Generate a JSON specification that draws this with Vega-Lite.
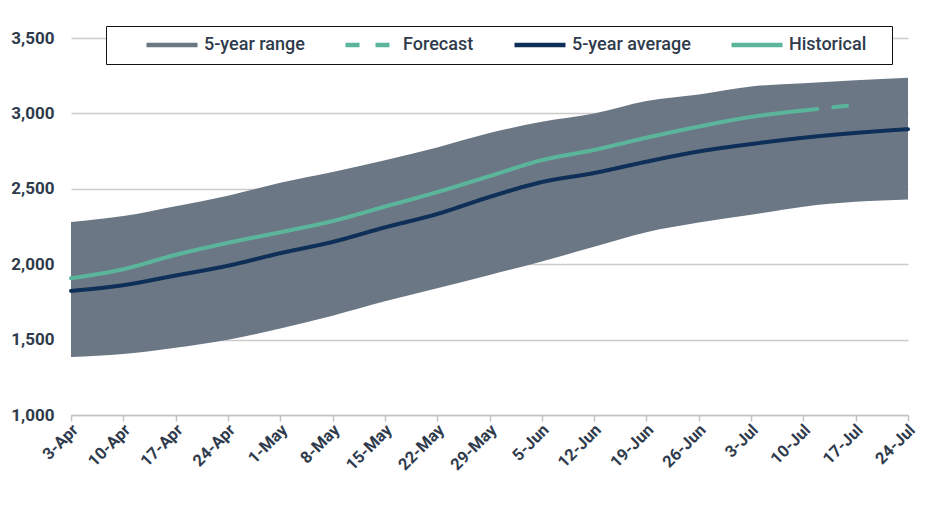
{
  "$schema": "https://vega.github.io/schema/vega-lite/v6.json",
  "width": 837,
  "height": 392,
  "autosize": {"type": "none"},
  "padding": {"left": 71, "top": 23, "right": 32, "bottom": 98},
  "background": "white",
  "config": {
    "view": {"stroke": null},
    "font": "Roboto",
    "axis": {
      "labelFont": "Roboto",
      "labelColor": "#2f3b4c",
      "labelFontWeight": "bold",
      "titleFontWeight": "normal"
    }
  },
  "datasets": {
    "band": [
      {"week": "3-Apr", "lower": 1385, "upper": 2280},
      {"week": "10-Apr", "lower": 1405, "upper": 2320},
      {"week": "17-Apr", "lower": 1446, "upper": 2385},
      {"week": "24-Apr", "lower": 1499, "upper": 2455},
      {"week": "1-May", "lower": 1574, "upper": 2540},
      {"week": "8-May", "lower": 1659, "upper": 2612},
      {"week": "15-May", "lower": 1754, "upper": 2690},
      {"week": "22-May", "lower": 1841, "upper": 2775},
      {"week": "29-May", "lower": 1929, "upper": 2870},
      {"week": "5-Jun", "lower": 2018, "upper": 2945},
      {"week": "12-Jun", "lower": 2116, "upper": 3000},
      {"week": "19-Jun", "lower": 2212, "upper": 3083},
      {"week": "26-Jun", "lower": 2276, "upper": 3126},
      {"week": "3-Jul", "lower": 2328, "upper": 3179},
      {"week": "10-Jul", "lower": 2382, "upper": 3200},
      {"week": "17-Jul", "lower": 2414, "upper": 3221},
      {"week": "24-Jul", "lower": 2429, "upper": 3237}
    ],
    "lines": [
      {"week": "3-Apr", "series": "5-year average", "value": 1823},
      {"week": "10-Apr", "series": "5-year average", "value": 1861},
      {"week": "17-Apr", "series": "5-year average", "value": 1925},
      {"week": "24-Apr", "series": "5-year average", "value": 1990},
      {"week": "1-May", "series": "5-year average", "value": 2073},
      {"week": "8-May", "series": "5-year average", "value": 2148},
      {"week": "15-May", "series": "5-year average", "value": 2244},
      {"week": "22-May", "series": "5-year average", "value": 2333},
      {"week": "29-May", "series": "5-year average", "value": 2446},
      {"week": "5-Jun", "series": "5-year average", "value": 2545},
      {"week": "12-Jun", "series": "5-year average", "value": 2605},
      {"week": "19-Jun", "series": "5-year average", "value": 2680},
      {"week": "26-Jun", "series": "5-year average", "value": 2748},
      {"week": "3-Jul", "series": "5-year average", "value": 2797},
      {"week": "10-Jul", "series": "5-year average", "value": 2839},
      {"week": "17-Jul", "series": "5-year average", "value": 2871},
      {"week": "24-Jul", "series": "5-year average", "value": 2896},
      {"week": "3-Apr", "series": "Historical", "value": 1907},
      {"week": "10-Apr", "series": "Historical", "value": 1967},
      {"week": "17-Apr", "series": "Historical", "value": 2062},
      {"week": "24-Apr", "series": "Historical", "value": 2142},
      {"week": "1-May", "series": "Historical", "value": 2212},
      {"week": "8-May", "series": "Historical", "value": 2286},
      {"week": "15-May", "series": "Historical", "value": 2382},
      {"week": "22-May", "series": "Historical", "value": 2478},
      {"week": "29-May", "series": "Historical", "value": 2584},
      {"week": "5-Jun", "series": "Historical", "value": 2690},
      {"week": "12-Jun", "series": "Historical", "value": 2758},
      {"week": "19-Jun", "series": "Historical", "value": 2839},
      {"week": "26-Jun", "series": "Historical", "value": 2913},
      {"week": "3-Jul", "series": "Historical", "value": 2977},
      {"week": "10-Jul", "series": "Historical", "value": 3020},
      {"week": "10-Jul", "series": "Forecast", "value": 3020},
      {"week": "17-Jul", "series": "Forecast", "value": 3058}
    ]
  },
  "encoding": {
    "x": {
      "field": "week",
      "type": "ordinal",
      "scale": {
        "type": "point",
        "padding": 0,
        "domain": ["3-Apr", "10-Apr", "17-Apr", "24-Apr", "1-May", "8-May", "15-May", "22-May", "29-May", "5-Jun", "12-Jun", "19-Jun", "26-Jun", "3-Jul", "10-Jul", "17-Jul", "24-Jul"]
      },
      "axis": {
        "title": null,
        "labelAngle": -45,
        "labelAlign": "right",
        "labelBaseline": "middle",
        "labelFontSize": 16.5,
        "labelPadding": 6,
        "labelOffset": 4,
        "domainColor": "#c4c4c4",
        "domainWidth": 1.5,
        "tickColor": "#c4c4c4",
        "tickWidth": 1.5,
        "tickSize": 6,
        "grid": false
      }
    }
  },
  "layer": [
    {
      "data": {"name": "band"},
      "mark": {"type": "area", "color": "#6b7785", "opacity": 1, "interpolate": "monotone"},
      "encoding": {
        "y": {
          "field": "lower",
          "type": "quantitative",
          "scale": {"domain": [1000, 3500]},
          "axis": {
            "title": null,
            "values": [1000, 1500, 2000, 2500, 3000, 3500],
            "format": ",d",
            "labelFontSize": 17,
            "labelPadding": 17,
            "ticks": false,
            "domain": false,
            "grid": true,
            "gridColor": "#cccccc",
            "gridWidth": 1.5
          }
        },
        "y2": {"field": "upper"}
      }
    },
    {
      "data": {"name": "lines"},
      "mark": {"type": "line", "strokeWidth": 4, "strokeCap": "round", "strokeJoin": "round", "interpolate": "monotone"},
      "encoding": {
        "y": {"field": "value", "type": "quantitative"},
        "color": {
          "field": "series",
          "type": "nominal",
          "scale": {
            "domain": ["5-year range", "Forecast", "5-year average", "Historical"],
            "range": ["#6b7785", "#5bb59a", "#0e2f57", "#5bb59a"]
          },
          "legend": {
            "title": " ",
            "titleOrient": "right",
            "titlePadding": 16,
            "orient": "none",
            "legendX": 35,
            "legendY": 3,
            "direction": "horizontal",
            "fillColor": "white",
            "strokeColor": "#111111",
            "padding": 10,
            "columnPadding": 10,
            "symbolType": "M-5.1,0H5.1",
            "symbolSize": 100,
            "symbolStrokeWidth": 4.5,
            "symbolOffset": 47,
            "labelOffset": 23,
            "labelFont": "Roboto",
            "labelFontSize": 18,
            "labelFontWeight": 500,
            "labelColor": "#2f3b4c"
          }
        },
        "strokeDash": {
          "field": "series",
          "type": "nominal",
          "scale": {
            "domain": ["5-year range", "Forecast", "5-year average", "Historical"],
            "range": [[1, 0], [14, 16], [1, 0], [1, 0]]
          }
        }
      }
    }
  ]
}
